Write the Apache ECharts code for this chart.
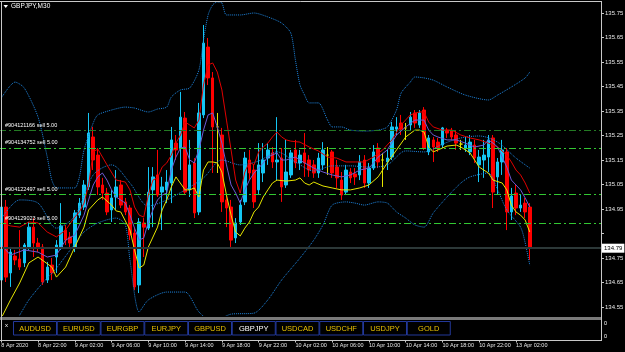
<!DOCTYPE html>
<html>
<head>
<meta charset="utf-8">
<script src="https://cdn.jsdelivr.net/npm/echarts/dist/echarts.min.js"></script>
<style>
html,body{margin:0;padding:0;background:#000;}
#chart{width:625px;height:352px;}
</style>
</head>
<body>
<div id="chart"></div>
<script>
// ---- data (GBPJPY M30, bar 0 = 8 Apr 2020 18:00) ----
const tickLabels = ['8 Apr 2020','8 Apr 22:00','9 Apr 02:00','9 Apr 06:00','9 Apr 10:00','9 Apr 14:00','9 Apr 18:00','9 Apr 22:00','10 Apr 02:00','10 Apr 06:00','10 Apr 10:00','10 Apr 14:00','10 Apr 18:00','10 Apr 22:00','13 Apr 02:00'];
const opens = [
134.660,134.958,134.689,134.758,134.746,134.730,134.795,134.876,134.811,134.795,
134.660,134.721,134.754,134.795,134.864,134.836,134.795,134.925,134.958,135.040,
135.244,135.170,135.048,135.015,134.946,134.999,135.048,134.979,134.954,134.852,
134.640,134.893,134.872,135.028,135.089,135.019,135.028,135.056,135.219,135.199,
135.321,135.028,135.138,134.938,135.334,135.611,135.485,135.285,135.252,134.987,
134.958,134.832,134.897,134.979,135.150,135.109,135.028,135.097,135.158,135.179,
135.142,135.158,135.048,135.089,135.191,135.138,135.179,135.150,135.130,135.097,
135.130,135.170,135.183,135.121,135.068,135.019,135.101,135.093,135.089,135.150,
135.056,135.117,135.199,135.150,135.142,135.162,135.276,135.301,135.281,135.293,
135.342,135.293,135.354,135.183,135.232,135.223,135.211,135.272,135.272,135.252,
135.215,135.199,135.183,135.211,135.130,135.150,135.162,135.240,135.081,135.142,
135.183,134.938,135.015,134.954,134.974,134.958];
const closes = [
134.958,134.672,134.774,134.742,134.713,134.803,134.876,134.811,134.795,134.652,
134.713,134.689,134.803,134.881,134.823,134.811,134.934,134.974,135.048,135.260,
135.150,135.040,135.015,134.938,134.995,135.040,134.966,134.938,134.844,134.632,
134.897,134.876,135.019,135.081,135.007,135.040,135.060,135.232,135.191,135.325,
135.019,135.130,134.934,135.342,135.627,135.485,135.285,135.285,134.979,134.954,
134.823,134.893,134.966,135.158,135.097,134.979,135.130,135.150,135.191,135.142,
135.150,135.040,135.101,135.179,135.138,135.170,135.138,135.109,135.097,135.158,
135.191,135.170,135.097,135.077,135.007,135.109,135.077,135.081,135.142,135.056,
135.117,135.183,135.142,135.150,135.158,135.285,135.285,135.276,135.281,135.325,
135.301,135.342,135.199,135.240,135.203,135.199,135.281,135.260,135.244,135.219,
135.215,135.211,135.223,135.158,135.162,135.170,135.232,135.019,135.142,135.191,
134.938,135.003,134.954,134.966,134.938,134.792];
const lows = [
134.640,134.652,134.632,134.721,134.701,134.713,134.783,134.754,134.774,134.640,
134.648,134.660,134.689,134.783,134.803,134.791,134.774,134.913,134.946,135.028,
135.109,135.007,134.987,134.925,134.897,134.946,134.954,134.925,134.823,134.619,
134.607,134.754,134.864,134.876,134.999,134.864,134.974,134.974,135.150,135.109,
135.007,134.999,134.913,134.925,135.321,135.456,135.097,135.097,134.938,134.876,
134.795,134.811,134.885,134.966,135.068,134.954,135.007,135.060,135.130,135.117,
135.068,134.979,135.036,135.077,135.117,135.109,135.081,135.081,135.077,135.077,
135.109,135.089,135.077,135.036,134.987,135.007,135.056,135.048,135.068,135.036,
135.036,135.109,135.117,135.040,135.109,135.150,135.252,135.252,135.232,135.272,
135.281,135.281,135.191,135.170,135.142,135.183,135.199,135.240,135.232,135.191,
135.191,135.183,135.170,135.138,135.060,135.077,135.101,134.954,135.007,135.089,
134.864,134.905,134.925,134.938,134.913,134.742];
const highs = [
134.974,134.987,134.795,134.783,134.864,134.811,134.897,134.913,134.832,134.807,
134.734,134.750,134.823,134.974,134.885,134.856,134.946,134.995,135.068,135.342,
135.285,135.199,135.077,135.036,135.028,135.109,135.068,134.995,134.966,134.872,
134.913,134.913,135.121,135.121,135.191,135.081,135.109,135.285,135.252,135.428,
135.346,135.232,135.158,135.383,135.701,135.648,135.509,135.342,135.281,135.007,
134.987,134.913,134.987,135.183,135.191,135.130,135.219,135.219,135.219,135.203,
135.325,135.199,135.232,135.191,135.232,135.191,135.260,135.170,135.150,135.179,
135.223,135.203,135.191,135.150,135.101,135.130,135.117,135.117,135.170,135.170,
135.138,135.211,135.219,135.179,135.191,135.305,135.325,135.334,135.301,135.346,
135.354,135.354,135.366,135.252,135.244,135.240,135.285,135.281,135.281,135.272,
135.232,135.244,135.252,135.232,135.191,135.232,135.252,135.252,135.158,135.232,
135.199,135.036,135.048,135.007,134.995,134.974];

// indicator lines: [bar index, price]
const maRed = [[0,134.893],[2,134.881],[4,134.876],[6,134.897],[8,134.893],[10,134.856],[12,134.836],[14,134.864],[16,134.917],[17,134.938],[18,134.974],[19,135.048],[20,135.183],[21,135.195],[23,135.130],[25,135.068],[27,135.060],[28,135.028],[29,134.958],[30,134.925],[31,134.917],[32,135.007],[33,135.068],[34,135.077],[35,135.121],[36,135.138],[37,135.170],[38,135.219],[39,135.252],[40,135.305],[41,135.293],[42,135.281],[43,135.313],[44,135.456],[45,135.538],[46,135.546],[47,135.509],[48,135.436],[49,135.313],[50,135.191],[51,135.068],[52,135.015],[53,135.101],[54,135.142],[55,135.130],[56,135.183],[57,135.203],[58,135.219],[59,135.244],[60,135.264],[61,135.244],[62,135.232],[63,135.227],[65,135.223],[67,135.203],[69,135.187],[71,135.162],[73,135.158],[75,135.142],[77,135.142],[79,135.142],[81,135.162],[83,135.191],[85,135.232],[87,135.293],[89,135.334],[91,135.346],[92,135.346],[93,135.305],[94,135.285],[96,135.272],[98,135.272],[100,135.252],[102,135.240],[104,135.232],[106,135.219],[108,135.203],[110,135.170],[111,135.142],[112,135.109],[113,135.089],[114,135.056],[115,135.015]];
const maPurple = [[0,134.803],[2,134.762],[5,134.783],[8,134.774],[10,134.754],[12,134.762],[14,134.823],[16,134.844],[18,134.925],[19,134.987],[20,135.048],[21,135.081],[22,135.097],[23,135.068],[24,135.028],[25,134.999],[27,134.974],[28,134.925],[29,134.872],[30,134.823],[31,134.832],[32,134.897],[33,134.946],[34,134.987],[35,135.007],[36,135.015],[37,135.109],[38,135.162],[39,135.199],[40,135.203],[41,135.150],[42,135.138],[43,135.191],[44,135.272],[45,135.334],[46,135.342],[47,135.285],[48,135.219],[49,135.130],[50,135.048],[51,135.015],[52,134.974],[53,135.028],[54,135.068],[55,135.097],[56,135.117],[57,135.138],[58,135.162],[60,135.179],[61,135.150],[62,135.150],[64,135.162],[66,135.138],[68,135.117],[70,135.101],[72,135.089],[74,135.081],[76,135.089],[78,135.109],[80,135.117],[81,135.138],[82,135.162],[84,135.191],[86,135.252],[88,135.285],[90,135.313],[92,135.313],[93,135.272],[94,135.252],[95,135.244],[97,135.232],[99,135.232],[101,135.219],[103,135.203],[105,135.211],[106,135.232],[107,135.219],[108,135.203],[109,135.162],[110,135.121],[111,135.068],[112,135.048],[113,135.028],[114,134.995],[115,134.958]];
const maYellow = [[0,134.505],[2,134.579],[4,134.648],[6,134.730],[8,134.754],[11,134.713],[12,134.672],[14,134.713],[16,134.795],[18,134.876],[19,134.946],[21,134.987],[22,134.999],[24,134.966],[25,134.942],[26,134.938],[28,134.864],[29,134.783],[30,134.709],[31,134.721],[32,134.795],[34,134.876],[35,134.946],[36,134.987],[37,135.040],[38,135.081],[40,135.028],[41,135.028],[42,135.036],[43,134.999],[44,135.109],[45,135.142],[46,135.142],[47,135.138],[48,135.101],[49,135.007],[50,134.925],[51,134.856],[52,134.840],[53,134.872],[54,134.897],[55,134.938],[56,134.958],[57,134.999],[58,135.028],[59,135.056],[60,135.068],[62,135.064],[64,135.068],[65,135.077],[66,135.056],[67,135.048],[68,135.060],[70,135.044],[72,135.036],[74,135.028],[76,135.028],[78,135.036],[80,135.048],[82,135.081],[84,135.138],[86,135.191],[88,135.244],[90,135.272],[91,135.272],[92,135.264],[93,135.203],[94,135.183],[95,135.191],[97,135.207],[99,135.211],[100,135.203],[102,135.179],[104,135.121],[106,135.097],[107,135.068],[109,135.056],[110,135.028],[111,134.966],[112,134.938],[113,134.925],[114,134.905],[115,134.856]];
const bbUpper = [[0,135.403],[3,135.468],[5,135.444],[8,135.325],[10,135.162],[11,135.068],[12,135.036],[14,135.036],[16,135.036],[17,135.081],[18,135.191],[20,135.301],[21,135.334],[24,135.354],[27,135.366],[29,135.362],[32,135.346],[34,135.358],[36,135.366],[37,135.407],[39,135.436],[41,135.444],[43,135.517],[44,135.640],[45,135.742],[46,135.783],[47,135.795],[48,135.791],[49,135.742],[52,135.742],[55,135.750],[58,135.734],[61,135.709],[63,135.668],[64,135.558],[65,135.456],[66,135.415],[67,135.383],[69,135.383],[71,135.313],[72,135.285],[74,135.285],[76,135.272],[79,135.268],[82,135.272],[84,135.285],[86,135.354],[87,135.423],[89,135.468],[90,135.489],[92,135.485],[94,135.476],[97,135.448],[101,135.415],[106,135.395],[108,135.415],[111,135.448],[114,135.485],[115,135.509]];
const bbMiddle = [[0,134.909],[4,134.987],[8,134.974],[12,134.872],[16,134.921],[20,135.089],[24,135.130],[28,135.056],[32,134.962],[36,134.987],[40,135.028],[44,135.077],[48,135.150],[52,135.130],[56,135.146],[60,135.183],[64,135.142],[68,135.105],[72,135.126],[76,135.126],[80,135.121],[84,135.130],[88,135.187],[92,135.183],[96,135.215],[100,135.240],[104,135.248],[108,135.223],[112,135.158],[115,135.117]];
const bbLower = [[0,134.400],[4,134.517],[6,134.579],[9,134.648],[12,134.709],[15,134.783],[18,134.856],[21,134.893],[25,134.913],[27,134.885],[28,134.742],[30,134.530],[32,134.579],[36,134.611],[40,134.611],[43,134.530],[46,134.489],[48,134.505],[50,134.521],[55,134.525],[58,134.579],[61,134.660],[65,134.750],[68,134.823],[70,134.885],[72,134.966],[75,134.979],[77,134.974],[79,134.966],[82,134.979],[84,134.974],[86,134.938],[88,134.913],[90,134.885],[92,134.876],[94,134.934],[97,134.999],[100,135.056],[102,135.081],[106,135.097],[108,135.028],[110,134.946],[113,134.876],[114,134.812],[115,134.721]];

const orderLabels = ['#904121166 sell 5.00','#904134752 sell 5.00','#904122497 sell 5.00','#904129023 sell 5.00'];
const orderPrices = [135.268, 135.199, 135.011, 134.891];
const orderColors = ['#237a23','#32c832','#32c832','#32c832'];
const bidPrice = 134.795;
const bidLabel = '134.79';
const symbols = ['AUDUSD','EURUSD','EURGBP','EURJPY','GBPUSD','GBPJPY','USDCAD','USDCHF','USDJPY','GOLD'];
const activeSymbol = 'GBPJPY';
const title = 'GBPJPY,M30';

// ---- build ----
const NCAT = 131;
const categories = [];
for (let i = 0; i < NCAT; i++) categories.push(String(i));
const candles = opens.map((o, i) => [o, closes[i], lows[i], highs[i]]);
const showTick = (idx) => idx % 8 === 0 && idx / 8 < tickLabels.length;
const FONT = 'Liberation Sans, Arial, sans-serif';

const orderSeries = orderPrices.map((p, k) => ({
  name: 'order' + k, type: 'line', data: [], silent: true, z: 2,
  markLine: {
    symbol: ['none', 'none'], silent: true, animation: false,
    lineStyle: { color: orderColors[k], width: 1, type: [7, 3, 2, 3], opacity: 1 },
    label: { show: true, position: 'insideStartTop', formatter: orderLabels[k], color: '#ffffff', fontSize: 5.5, fontFamily: FONT, distance: [6, 2] },
    data: [{ yAxis: p }]
  }
}));

const lineSeries = (name, data, color, type, smooth) => ({
  name, type: 'line', data, symbol: 'none', smooth: smooth || false, z: 3,
  lineStyle: { color, width: 1, type: type || 'solid' }, silent: true, animation: false
});

const graphics = [];
graphics.push({ type: 'rect', shape: { x: 0, y: 316, width: 625, height: 36 }, style: { fill: '#000' }, z: 50, silent: true });
graphics.push({ type: 'rect', shape: { x: 0, y: 317, width: 601, height: 3 }, style: { fill: '#7a7a7a' }, z: 51, silent: true });
graphics.push({ type: 'line', shape: { x1: 0, y1: 1.5, x2: 601.5, y2: 1.5 }, style: { stroke: '#c8c8c8', lineWidth: 1 }, z: 52, silent: true });
graphics.push({ type: 'line', shape: { x1: 1.5, y1: 1, x2: 1.5, y2: 341 }, style: { stroke: '#c8c8c8', lineWidth: 1 }, z: 52, silent: true });
graphics.push({ type: 'line', shape: { x1: 601.5, y1: 1, x2: 601.5, y2: 341 }, style: { stroke: '#c8c8c8', lineWidth: 1 }, z: 52, silent: true });
graphics.push({ type: 'polygon', shape: { points: [[3.5, 5], [8, 5], [5.75, 8]] }, style: { fill: '#ffffff' }, z: 52, silent: true });
graphics.push({ type: 'text', x: 11, y: 6, style: { text: title, fill: '#ffffff', font: '6.5px ' + FONT, verticalAlign: 'middle' }, z: 52, silent: true });
graphics.push({ type: 'text', x: 5, y: 325, style: { text: 'x', fill: '#ffffff', font: '6px ' + FONT, verticalAlign: 'middle' }, z: 52, silent: true });
symbols.forEach((s, k) => {
  const bx = 13.5 + k * 43.75;
  graphics.push({ type: 'rect', shape: { x: bx, y: 321.5, width: 43, height: 13.5 }, style: { fill: '#000', stroke: '#23389a', lineWidth: 1 }, z: 52, silent: true });
  graphics.push({ type: 'text', x: bx + 21.5, y: 328.5, style: { text: s, fill: s === activeSymbol ? '#ffffff' : '#e8c000', font: '7.5px ' + FONT, align: 'center', verticalAlign: 'middle' }, z: 53, silent: true });
});
graphics.push({ type: 'text', x: 604, y: 323.5, style: { text: '0', fill: '#ffffff', font: '5.5px ' + FONT, verticalAlign: 'middle' }, z: 52, silent: true });
graphics.push({ type: 'text', x: 604, y: 336, style: { text: '0', fill: '#ffffff', font: '5.5px ' + FONT, verticalAlign: 'middle' }, z: 52, silent: true });

const chart = echarts.init(document.getElementById('chart'), null, { renderer: 'canvas' });
chart.setOption({
  backgroundColor: '#000000',
  animation: false,
  textStyle: { fontFamily: FONT },
  grid: { left: -1, top: -11.5, width: 602, height: 343, containLabel: false, outerBoundsMode: 'none' },
  xAxis: {
    type: 'category', data: categories, boundaryGap: true, offset: 9, z: 60,
    axisLine: { show: true, lineStyle: { color: '#c8c8c8', width: 1 } },
    axisTick: { show: true, interval: (i) => showTick(i), alignWithLabel: true, length: 2, lineStyle: { color: '#c8c8c8' } },
    axisLabel: { show: true, interval: (i) => showTick(i), formatter: (v, i) => tickLabels[i / 8] || '', align: 'left', margin: 2, color: '#e6e6e6', fontSize: 5.5, fontFamily: FONT, hideOverlap: false },
    splitLine: { show: false }
  },
  yAxis: {
    type: 'value', position: 'right', min: 134.45, max: 135.85, interval: 0.1, scale: true,
    axisLine: { show: false },
    axisTick: { show: true, length: 3, lineStyle: { color: '#c8c8c8' } },
    axisLabel: {
      margin: 4, color: '#e6e6e6', fontSize: 6, fontFamily: FONT, showMinLabel: true, showMaxLabel: true, hideOverlap: false,
      formatter: (v) => (v < 134.5 || v > 135.8 || Math.abs(v - 134.85) < 0.001) ? '' : v.toFixed(2)
    },
    splitLine: { show: false }
  },
  graphic: { elements: graphics },
  series: orderSeries.concat([
    lineSeries('BB upper', bbUpper, '#1e86e0', 'dotted', 0.25),
    lineSeries('BB middle', bbMiddle, '#1e86e0', 'dotted', 0.3),
    lineSeries('BB lower', bbLower, '#1e86e0', 'dotted', 0.25),
    {
      name: 'GBPJPY', type: 'candlestick', data: candles, barWidth: 3, z: 2, clip: true,
      itemStyle: { color: '#14c6f4', color0: '#ff0000', borderColor: '#14c6f4', borderColor0: '#ff0000', borderColorDoji: '#e6e600', borderWidth: 1 },
      markLine: {
        symbol: ['none', 'none'], silent: true, animation: false,
        data: [{
          yAxis: bidPrice,
          lineStyle: { color: '#2c3838', width: 2, type: 'solid' },
          label: { show: true, position: 'end', formatter: bidLabel, color: '#000', backgroundColor: '#ffffff', padding: [2, 2, 1, 3], fontSize: 6, fontFamily: FONT, distance: 0 }
        }]
      }
    },
    lineSeries('MA red', maRed, '#e00000'),
    lineSeries('MA purple', maPurple, '#6e5ad2'),
    lineSeries('MA yellow', maYellow, '#e6e600')
  ])
});
</script>
</body>
</html>
